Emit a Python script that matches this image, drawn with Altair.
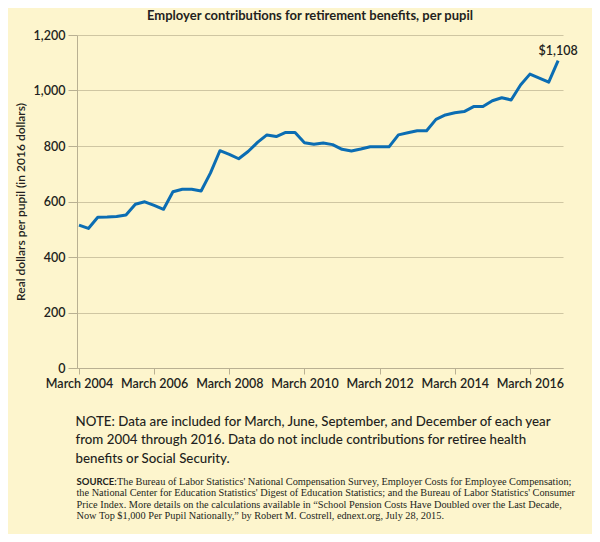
import altair as alt
import pandas as pd

# Quarterly values, March 2004 .. December 2016
values = [515, 503, 543, 544, 546, 551, 590, 599, 586, 572,
          635, 644, 644, 638, 703, 783, 770, 754, 780, 813,
          840, 834, 849, 849, 812, 806, 811, 805, 788, 782,
          789, 797, 797, 797, 840, 848, 855, 855, 896, 912,
          920, 924, 942, 942, 963, 974, 966, 1020, 1059, 1045,
          1030, 1108]
years = list(range(2004, 2017))
quarters = ["March", "June", "September", "December"]
tick_years = [2004, 2006, 2008, 2010, 2012, 2014, 2016]
y_ticks = [0, 200, 400, 600, 800, 1000, 1200]

title_text = "Employer contributions for retirement benefits, per pupil"
y_title = "Real dollars per pupil (in 2016 dollars)"
last_label = "$1,108"
note_lines = [
    "NOTE: Data are included for March, June, September, and December of each year",
    "from 2004 through 2016. Data do not include contributions for retiree health",
    "benefits or Social Security.",
]
source_head = "SOURCE:"
source_first = "The Bureau of Labor Statistics' National Compensation Survey, Employer Costs for Employee Compensation;"
source_rest = [
    "the National Center for Education Statistics' Digest of Education Statistics; and the Bureau of Labor Statistics' Consumer",
    "Price Index. More details on the calculations available in \u201cSchool Pension Costs Have Doubled over the Last Decade,",
    "Now Top $1,000 Per Pupil Nationally,\u201d by Robert M. Costrell, ednext.org, July 28, 2015.",
]

rows = []
i = 0
for yr in years:
    for qi, q in enumerate(quarters):
        rows.append({"t": yr + qi * 0.25, "label": f"{q} {yr}", "value": values[i]})
        i += 1
df = pd.DataFrame(rows)
last_df = df.tail(1).assign(txt=last_label)

W, H = 486, 333
BLUE = "#0B6DB3"
GRID = "#CFC6A2"
AXC = "#B9B092"
TXT = "#231F20"
FONT = "Lato"

x_scale = alt.Scale(domain=[2003.947, 2016.88], nice=False, zero=False)
y_scale = alt.Scale(domain=[0, 1200], nice=False)

x_axis = alt.Axis(values=tick_years, labelExpr="'March ' + datum.value",
                  title=None, grid=False, domain=True, domainColor=AXC,
                  tickColor=AXC, tickSize=6, labelPadding=3,
                  labelFont=FONT, labelFontSize=12.5, labelFontWeight=600,
                  labelColor=TXT)
y_axis = alt.Axis(values=y_ticks, format=",d", title=y_title,
                  grid=True, gridColor=GRID, gridWidth=1.2,
                  domain=True, domainColor=AXC, tickColor=AXC,
                  tickSize=9, labelPadding=3, labelFont=FONT, labelFontSize=12.5,
                  labelFontWeight=600, labelColor=TXT,
                  titleFont=FONT, titleFontSize=12, titleFontWeight=600,
                  titleColor=TXT, titlePadding=6)

line = alt.Chart(df).mark_line(color=BLUE, strokeWidth=3, strokeJoin="round").encode(
    x=alt.X("t:Q", scale=x_scale, axis=x_axis),
    y=alt.Y("value:Q", scale=y_scale, axis=y_axis),
)

last = alt.Chart(last_df).mark_text(font=FONT, fontSize=12.5, fontWeight=600, color=TXT,
                                    dy=-6, baseline="alphabetic", align="center").encode(
    x=alt.X("t:Q", scale=x_scale, axis=x_axis),
    y=alt.Y("value:Q", scale=y_scale, axis=y_axis), text="txt:N")

title = alt.Chart(df.head(1)).mark_text(text=title_text, font=FONT, fontSize=13,
                                        fontWeight="bold", color=TXT, align="center",
                                        baseline="alphabetic").encode(
    x=alt.value(233), y=alt.value(-15))

note = alt.Chart(df.head(1)).mark_text(text=note_lines, font=FONT, fontSize=13.3,
                                       fontWeight=500, color=TXT, align="left",
                                       baseline="alphabetic", lineHeight=18.5).encode(
    x=alt.value(-1.5), y=alt.value(390.7))

src_head = alt.Chart(df.head(1)).mark_text(text=source_head, font=FONT, fontSize=9.5,
                                           fontWeight="bold", color=TXT, align="left",
                                           baseline="alphabetic").encode(
    x=alt.value(-0.5), y=alt.value(450))
src_first = alt.Chart(df.head(1)).mark_text(text=source_first, font="Liberation Serif",
                                            fontSize=10.3, color=TXT, align="left",
                                            baseline="alphabetic").encode(
    x=alt.value(40), y=alt.value(450))
src_rest = alt.Chart(df.head(1)).mark_text(text=source_rest, font="Liberation Serif",
                                           fontSize=10.3, color=TXT, align="left",
                                           baseline="alphabetic", lineHeight=11.4).encode(
    x=alt.value(-0.5), y=alt.value(461.3))

chart = alt.layer(line, last, title, note, src_head, src_first, src_rest).properties(
    width=W, height=H,
    autosize=alt.AutoSizeParams(type="none"),
    padding={"left": 69, "top": 27, "right": 29, "bottom": 166},
    background="#FDF5CD",
).configure_view(stroke=None)

chart.save("out.html", embed_options={"renderer": "svg", "actions": False})
